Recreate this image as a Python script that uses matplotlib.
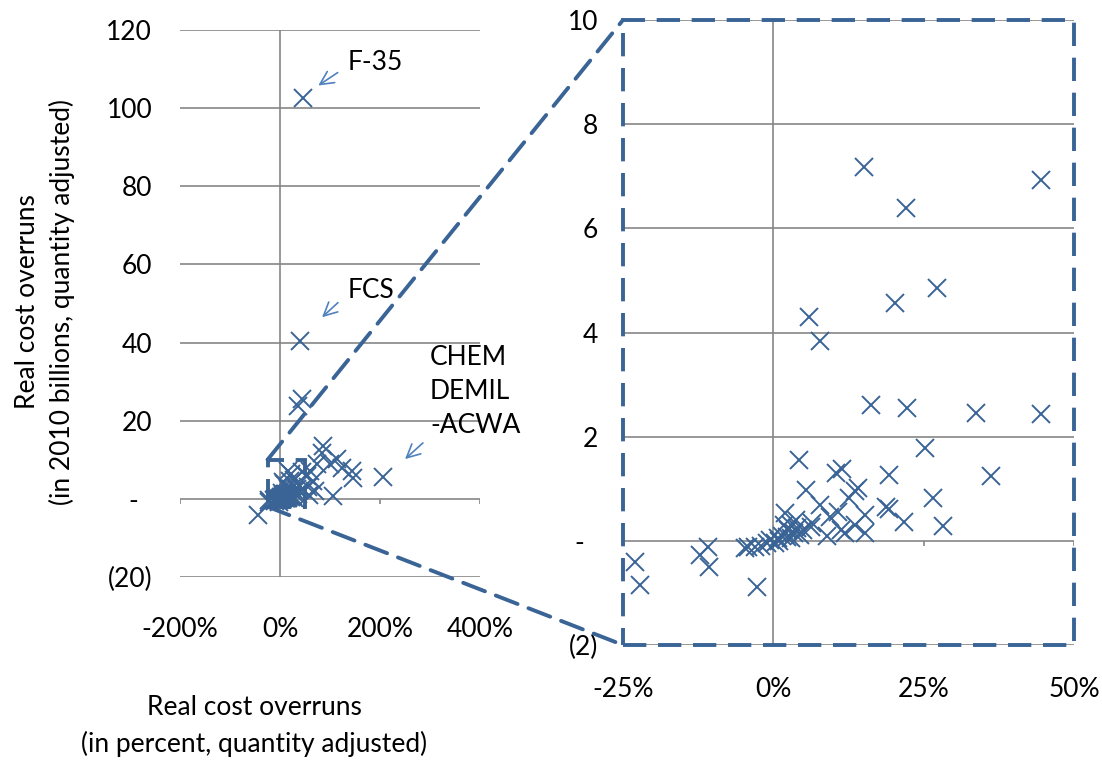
import matplotlib
matplotlib.use("Agg")
import matplotlib.pyplot as plt
from matplotlib.patches import Rectangle, ConnectionPatch

plt.rcParams["font.family"] = ["Lato", "DejaVu Sans"]

# Real cost overruns: percent (x) and 2010 $ billions (y), quantity adjusted
overrun_pct = [
    46, 40, 44, 36, 86, 84, 114, 100, 124, 144, 146, 74, 60, 206, 106, -44,
    53, 55, 65, 70, 58,
    15, 44.5, 22, 27.2, 20.3, 6, 7.8, 16.2, 22.2, 33.7, 44.5, 25.3, 4.2,
    36.2, 19.2, 10.5, 11.5, 5.5, 14, 13.6, 26.5, 7.8, 12.5, 18.8, 19.2,
    15.3, 21.7, 28.2, 9.5, 6.3, 11.3, 12, 15.3, 3.7, 2, 2.5, 3.5, 4.5, 3,
    1.5, 0.8, 0.3, 1, -1, -2, -3, -4.2, -4.7, -10.8, -12.2, -10.7, -23,
    -22.2, -2.7, 2.2, 5, 1.8, -0.5, 9, 13.5, 10.8, 3, 4, 6.5,
]
overrun_bn = [
    102.6, 40.5, 25.6, 23.8, 13.6, 11.8, 10.3, 9, 8, 7.2, 5.4, 9, 7.2, 5.6,
    0.8, -4.2, 5.9, 3, 4.5, 2, 1,
    7.17, 6.92, 6.4, 4.85, 4.56, 4.29, 3.83, 2.6, 2.56, 2.46, 2.44, 1.78,
    1.56, 1.25, 1.27, 1.3, 1.37, 0.98, 1.02, 0.95, 0.82, 0.69, 0.83, 0.65,
    0.61, 0.5, 0.37, 0.29, 0.46, 0.27, 0.21, 0.15, 0.15, 0.4, 0.54, 0.21,
    0.15, 0.12, 0.3, 0.1, 0.05, -0.04, 0.0, -0.05, -0.1, -0.11, -0.12,
    -0.14, -0.12, -0.27, -0.5, -0.4, -0.85, -0.88, 0.08, 0.2, 0.3, 0.02,
    0.1, 0.3, 0.55, 0.05, 0.25, 0.35,
]

left_xticks = [-200, 0, 200, 400]
left_xlabels = ["-200%", "0%", "200%", "400%"]
left_yticks = [-20, 0, 20, 40, 60, 80, 100, 120]
left_ylabels = ["(20)", "-  ", "20", "40", "60", "80", "100", "120"]

right_xticks = [-25, 0, 25, 50]
right_xlabels = ["-25%", "0%", "25%", "50%"]
right_yticks = [-2, 0, 2, 4, 6, 8, 10]
right_ylabels = ["(2)", "-  ", "2", "4", "6", "8", "10"]

zoom_x = (-25, 50)
zoom_y = (-2, 10)

MARK = "#3A6496"
ARROW = "#4F81BD"
GRID = "#868686"
FS = 19

fig = plt.figure(figsize=(11.02, 7.60), dpi=100)
ax1 = fig.add_axes([180 / 1102, 1 - 577 / 760, 300 / 1102, 547 / 760])
ax2 = fig.add_axes([623 / 1102, 1 - 645 / 760, 451 / 1102, 625 / 760])


def frame(ax, xt, xl, yt, yl, tick_len, xpad, ypad):
    ax.set_xlim(xt[0], xt[-1])
    ax.set_ylim(yt[0], yt[-1])
    for sp in ax.spines.values():
        sp.set_visible(False)
    for y in yt:
        ax.axhline(y, color=GRID, lw=1.2, zorder=1)
    ax.axvline(0, color=GRID, lw=1.2, zorder=1)
    ax.vlines([t for t in xt if t != 0], -tick_len, 0, color=GRID, lw=1.2,
              zorder=1)
    ax.set_xticks(xt)
    ax.set_xticklabels(xl, fontsize=FS)
    ax.set_yticks(yt)
    ax.set_yticklabels(yl, fontsize=FS)
    ax.tick_params(axis="x", length=0, pad=xpad)
    ax.tick_params(axis="y", length=0, pad=ypad)
    ax.patch.set_alpha(0)


frame(ax1, left_xticks, left_xlabels, left_yticks, left_ylabels, 1.3, 29, 20)
frame(ax2, right_xticks, right_xlabels, right_yticks, right_ylabels, 0.1,
      23, 18)

for ax in (ax1, ax2):
    ax.plot(overrun_pct, overrun_bn, ls="none", marker="x", ms=13, mew=1.4,
            color=MARK, zorder=3)

# zoom box on the left and dashed frame round the right panel
DASH = (0, (6, 3))
ax1.add_patch(Rectangle((zoom_x[0], zoom_y[0]), zoom_x[1] - zoom_x[0],
                        zoom_y[1] - zoom_y[0], fill=False, ec=MARK, lw=2.8,
                        ls=DASH, zorder=4))
ax2.add_patch(Rectangle((0, 0), 1, 1, transform=ax2.transAxes, fill=False,
                        ec=MARK, lw=2.8, ls=DASH, clip_on=False, zorder=4))
for yy in zoom_y:
    con = ConnectionPatch((zoom_x[0], yy), (zoom_x[0], yy),
                          coordsA=ax1.transData, coordsB=ax2.transData,
                          color=MARK, lw=2.8, ls=DASH)
    fig.add_artist(con)

# labels for the big programmes
arrow = dict(arrowstyle="->", color=ARROW, lw=1.2, mutation_scale=24)
ax1.annotate("", xy=(72, 105.4), xytext=(120, 109.5), arrowprops=arrow)
ax1.text(136, 111.6, "F-35", fontsize=FS, va="center", ha="left")
ax1.annotate("", xy=(80, 46), xytext=(120, 50.7), arrowprops=arrow)
ax1.text(136, 53.2, "FCS", fontsize=FS, va="center", ha="left")
ax1.annotate("", xy=(246, 9.7), xytext=(290, 14.8), arrowprops=arrow,
             annotation_clip=False)
ax1.text(300, 27.6, "CHEM\nDEMIL\n-ACWA", fontsize=FS, va="center", ha="left",
         linespacing=1.45, clip_on=False)

fig.text(45 / 1102, 1 - 302 / 760,
         "Real cost overruns\n(in 2010 billions, quantity adjusted)",
         rotation=90, fontsize=FS, ha="center", va="center",
         multialignment="center", linespacing=1.4)
fig.text(254 / 1102, 1 - 726 / 760,
         "Real cost overruns\n(in percent, quantity adjusted)",
         fontsize=FS, ha="center", va="center", multialignment="center",
         linespacing=1.55)

fig.savefig("out.png", dpi=100)
